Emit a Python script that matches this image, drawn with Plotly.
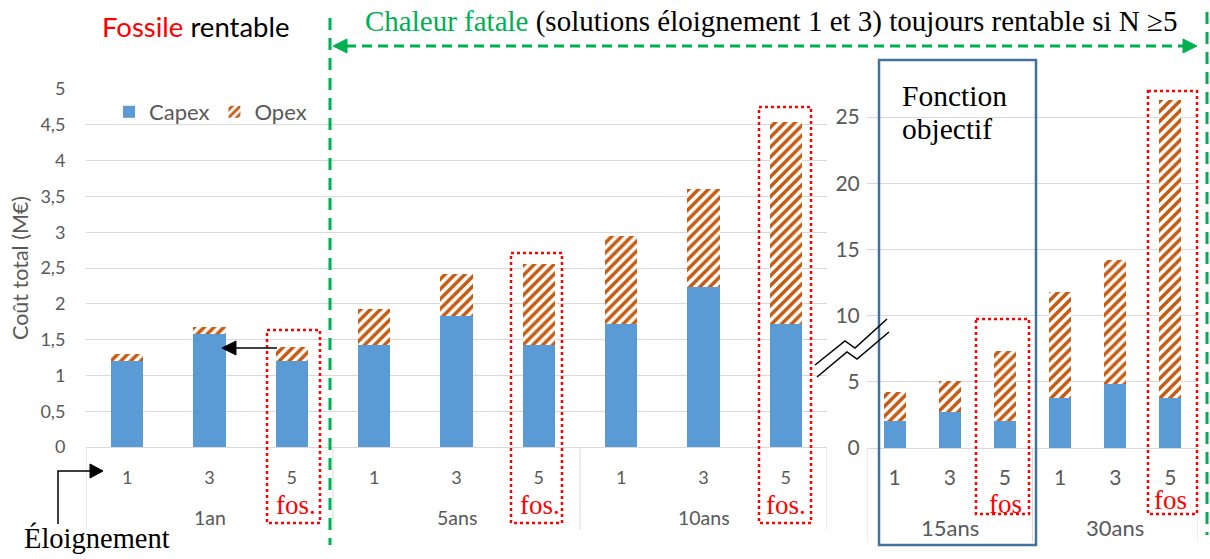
import plotly.graph_objects as go

# ---- data (M€) ----
eloignement = ["1", "3", "5"]

groups_left = ["1an", "5ans", "10ans"]
capex_left = [1.20, 1.58, 1.20,   1.42, 1.83, 1.42,   1.72, 2.23, 1.72]
opex_left = [0.10, 0.10, 0.20,   0.51, 0.59, 1.14,   1.23, 1.38, 2.82]

groups_right = ["15ans", "30ans"]
capex_right = [2.04, 2.72, 2.04,   3.77, 4.83, 3.77]
opex_right = [2.16, 2.34, 5.26,   8.03, 9.37, 22.53]

left_ticks = [0, 0.5, 1, 1.5, 2, 2.5, 3, 3.5, 4, 4.5, 5]
right_ticks = [0, 5, 10, 15, 20, 25]

# ---- styling ----
W, H = 1210, 559
BLUE = "#5B9BD5"
ORANGE = "#C55A11"
GRID = "#D9D9D9"
LABEL = "#595959"
GREEN = "#00B050"
RED = "#FF0000"
BOX = "#41719C"
SANS = "Lato"
SERIF = "Liberation Serif"


def X(px):
    return px / W


def Y(py):
    return 1 - py / H


def cat_keys(groups):
    return [f"{g} {e}" for g in groups for e in eloignement]


x_left = cat_keys(groups_left)
x_right = cat_keys(groups_right)

fig = go.Figure()

opex_pattern = dict(shape="/", fgcolor=ORANGE, bgcolor="white", fgopacity=1,
                    size=7, solidity=0.5)

fig.add_trace(go.Bar(x=x_left, y=capex_left, name="Capex", width=0.39,
                     marker=dict(color=BLUE, line=dict(width=0)),
                     xaxis="x", yaxis="y"))
fig.add_trace(go.Bar(x=x_left, y=opex_left, name="Opex", width=0.39,
                     marker=dict(color="white", pattern=opex_pattern, line=dict(width=0)),
                     xaxis="x", yaxis="y"))
fig.add_trace(go.Bar(x=x_right, y=capex_right, name="Capex", width=0.40, showlegend=False,
                     marker=dict(color=BLUE, line=dict(width=0)),
                     xaxis="x2", yaxis="y2"))
fig.add_trace(go.Bar(x=x_right, y=opex_right, name="Opex", width=0.40, showlegend=False,
                     marker=dict(color="white", pattern=opex_pattern, line=dict(width=0)),
                     xaxis="x2", yaxis="y2"))

transparent = "rgba(0,0,0,0)"

fig.update_layout(
    width=W, height=H,
    margin=dict(l=0, r=0, t=0, b=0, pad=0, autoexpand=False),
    paper_bgcolor="white", plot_bgcolor="white",
    barmode="stack",
    separators=", ",
    showlegend=True,
    legend=dict(orientation="h", x=X(109), y=Y(112), xanchor="left", yanchor="middle",
                font=dict(family=SANS, size=22, color=LABEL), bgcolor=transparent,
                traceorder="normal"),
    xaxis=dict(domain=[X(86), X(827)], anchor="y", type="category", automargin=False,
               categoryorder="array", categoryarray=x_left, range=[-0.5, 8.5],
               tickmode="array", tickvals=x_left, ticktext=eloignement * len(groups_left),
               ticks="outside", ticklen=14, tickcolor=transparent,
               tickfont=dict(family=SANS, size=18, color=LABEL),
               showline=True, linecolor=GRID, linewidth=1, showgrid=False, zeroline=False),
    yaxis=dict(domain=[Y(447), Y(89)], anchor="x", range=[0, 5], automargin=False,
               tickmode="array", tickvals=left_ticks,
               ticks="outside", ticklen=16, tickcolor=transparent,
               tickfont=dict(family=SANS, size=18, color=LABEL),
               showgrid=True, gridcolor=GRID, gridwidth=1, zeroline=False, showline=False),
    xaxis2=dict(domain=[X(867), X(1198)], anchor="y2", type="category", automargin=False,
                categoryorder="array", categoryarray=x_right, range=[-0.5, 5.5],
                tickmode="array", tickvals=x_right, ticktext=eloignement * len(groups_right),
                ticks="outside", ticklen=11, tickcolor=transparent,
                tickfont=dict(family=SANS, size=21, color=LABEL),
                showline=True, linecolor=GRID, linewidth=1, showgrid=False, zeroline=False),
    yaxis2=dict(domain=[Y(448), Y(77.3)], anchor="x2", range=[0, 28], automargin=False,
                tickmode="array", tickvals=right_ticks,
                ticks="outside", ticklen=2, tickcolor=transparent,
                tickfont=dict(family=SANS, size=21, color=LABEL),
                showgrid=True, gridcolor=GRID, gridwidth=1, zeroline=False, showline=False),
)

shapes = []
annotations = []


def pline(x0, y0, x1, y1, color, width, dash="solid"):
    shapes.append(dict(type="line", xref="paper", yref="paper",
                       x0=X(x0), y0=Y(y0), x1=X(x1), y1=Y(y1),
                       line=dict(color=color, width=width, dash=dash), layer="above"))


def ppath(points, color, width=1.5, fill=None, closed=False):
    d = "M " + " L ".join(f"{X(a):.5f},{Y(b):.5f}" for a, b in points)
    if closed:
        d += " Z"
    shapes.append(dict(type="path", xref="paper", yref="paper", path=d,
                       line=dict(color=color, width=width),
                       fillcolor=fill if fill else transparent, layer="above"))


def prect(x0, y0, x1, y1, color, width, dash="solid"):
    shapes.append(dict(type="rect", xref="paper", yref="paper",
                       x0=X(x0), y0=Y(y0), x1=X(x1), y1=Y(y1),
                       line=dict(color=color, width=width, dash=dash),
                       fillcolor=transparent, layer="above"))


def ptext(text, x, y, size, color="black", family=SERIF, xanchor="center", angle=0):
    annotations.append(dict(text=text, xref="paper", yref="paper", x=X(x), y=Y(y),
                            xanchor=xanchor, yanchor="middle", showarrow=False,
                            textangle=angle, font=dict(family=family, size=size, color=color)))


# group dividers below the category axes
for b in [-0.5, 2.5, 5.5, 8.5]:
    shapes.append(dict(type="line", xref="x", yref="paper", x0=b, x1=b, y0=Y(447), y1=Y(530),
                       line=dict(color=GRID, width=1)))
for b in [-0.5, 2.5, 5.5]:
    shapes.append(dict(type="line", xref="x2", yref="paper", x0=b, x1=b, y0=Y(448), y1=Y(542),
                       line=dict(color=GRID, width=1)))

# group labels
for i, g in enumerate(groups_left):
    annotations.append(dict(text=g, xref="x", yref="paper", x=x_left[3 * i + 1], y=Y(517),
                            yanchor="middle", showarrow=False,
                            font=dict(family=SANS, size=19.5, color=LABEL)))
for i, g in enumerate(groups_right):
    annotations.append(dict(text=g, xref="x2", yref="paper", x=x_right[3 * i + 1], y=Y(527),
                            yanchor="middle", showarrow=False,
                            font=dict(family=SANS, size=22, color=LABEL)))

# y axis title
ptext("Coût total (M€)", 20, 268, 21.5, LABEL, SANS, angle=-90)

# headline texts
ptext("<span style='color:#FF0000'>Fossile</span> rentable", 100, 27, 27.5, "black", SANS, "left")
ptext("<span style='color:#00B050'>Chaleur fatale</span> (solutions éloignement 1 et 3) "
      "toujours rentable si N ≥5", 363, 21, 29, "black", SERIF, "left")

# green separators and double arrow
pline(330, 18, 330, 545, GREEN, 3, "12px,8px")
pline(1207, 12, 1207, 535, GREEN, 3, "12px,8px")
pline(346, 46, 1184, 46, GREEN, 3, "10px,6px")
ppath([(333, 46), (347, 39), (347, 53)], GREEN, 1, GREEN, True)
ppath([(1197, 46), (1183, 39), (1183, 53)], GREEN, 1, GREEN, True)

# fossil-solution highlight boxes
prect(267, 330, 320, 523, RED, 2.5, "dot")
prect(511, 253, 562, 523, RED, 2.5, "dot")
prect(759, 107, 811, 523, RED, 2.5, "dot")
prect(976, 319, 1029, 514, RED, 2.5, "dot")
prect(1148, 91, 1197, 514, RED, 2.5, "dot")
ptext("fos.", 296, 505, 27, RED)
ptext("fos.", 540, 505, 27, RED)
ptext("fos.", 786, 505, 27, RED)
ptext("fos", 1005, 504, 27, RED)
ptext("fos", 1170, 500, 27, RED)

# objective-function frame
prect(879, 60, 1036, 545, BOX, 2.5)
ptext("Fonction", 900, 96, 29.5, "black", SERIF, "left")
ptext("objectif", 900, 129, 29.5, "black", SERIF, "left")

# arrow from the fossil bar to the distance-3 bar (1 year)
pline(277, 348, 234, 348, "black", 1.5)
ppath([(222, 348), (236, 341), (236, 355)], "black", 1, "black", True)

# "Éloignement" pointer
ppath([(58, 524), (58, 471), (92, 471)], "black", 1.5)
ppath([(103, 471), (90, 464), (90, 478)], "black", 1, "black", True)
ptext("Éloignement", 22, 538, 28.5, "black", SERIF, "left")

# axis break mark
ppath([(815, 365), (845, 341), (855, 348), (887, 319)], "black", 1.5)
ppath([(817, 377), (847, 352), (857, 359), (889, 332)], "black", 1.5)

fig.update_layout(shapes=shapes, annotations=annotations)

fig.write_html("out.html")
